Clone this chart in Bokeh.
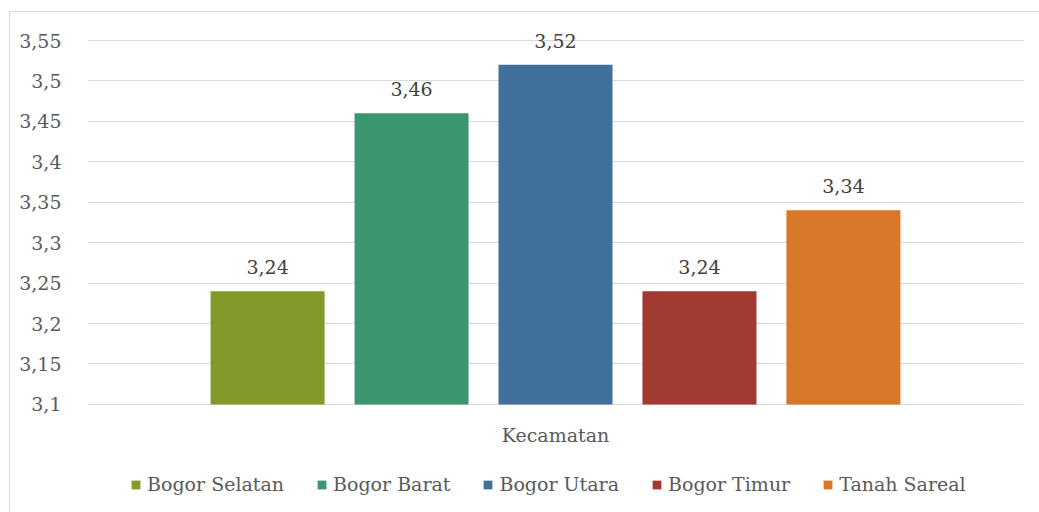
from bokeh.plotting import figure
from bokeh.models import (ColumnDataSource, FactorRange, Range1d, FixedTicker,
                          Legend, LegendItem)
from bokeh.core.properties import value
from bokeh.transform import dodge
from bokeh.embed import file_html
from bokeh.resources import INLINE

# Nilai rata-rata per kecamatan
category = "Kecamatan"
series_names = ["Bogor Selatan", "Bogor Barat", "Bogor Utara", "Bogor Timur", "Tanah Sareal"]
series_values = [3.24, 3.46, 3.52, 3.24, 3.34]
series_colors = ["#839A2B", "#3B9670", "#41709C", "#A03A33", "#D97728"]

tick_values = [3.1, 3.15, 3.2, 3.25, 3.3, 3.35, 3.4, 3.45, 3.5, 3.55]
tick_labels = ["3,1", "3,15", "3,2", "3,25", "3,3", "3,35", "3,4", "3,45", "3,5", "3,55"]

FONT = "DejaVu Serif"
FS = "19px"
TEXT = "#595959"
GRID = "#d9d9d9"

# the plotting frame spans the whole height so that value labels, the
# category label and the legend can sit above/below the gridded band
y_lo = tick_values[0] - 0.1337
y_hi = tick_values[-1] + 0.0347

p = figure(
    width=1030, height=500,
    x_range=FactorRange(category, range_padding=0),
    y_range=Range1d(y_lo, y_hi),
    output_backend="svg", toolbar_location=None,
    min_border_left=77, min_border_right=17, min_border_top=0, min_border_bottom=0,
    outline_line_color=None,
    margin=(11, 0, 0, 9),
    styles={"border-left": f"1px solid {GRID}", "border-top": f"1px solid {GRID}"},
)

step = 0.1538
bar_w = 0.1218
items = []
for i, (name, val, col) in enumerate(zip(series_names, series_values, series_colors)):
    src = ColumnDataSource(dict(x=[category], top=[val],
                                label=[f"{val:.2f}".replace(".", ",")]))
    xpos = dodge("x", (i - 2) * step, range=p.x_range)
    r = p.vbar(x=xpos, top="top", bottom=tick_values[0], width=bar_w,
               source=src, fill_color=col, line_color=None)
    items.append(LegendItem(label=name, renderers=[r]))
    # value label above each bar
    p.text(x=xpos, y="top", text="label", source=src,
           text_align="center", text_baseline="bottom", y_offset=-17,
           text_font=value(FONT), text_font_size=FS, text_color="#404040")

# category label under the baseline
p.text(x=[category], y=[tick_values[0]], text=[category],
       text_align="center", text_baseline="middle", y_offset=31,
       text_font=value(FONT), text_font_size=FS, text_color=TEXT)

# y axis
p.yaxis.ticker = FixedTicker(ticks=tick_values)
p.yaxis.major_label_overrides = {v: s for v, s in zip(tick_values, tick_labels)}
p.yaxis.axis_line_color = None
p.yaxis.major_tick_line_color = None
p.yaxis.minor_tick_line_color = None
p.yaxis.major_label_standoff = 20
p.yaxis.major_label_text_font = FONT
p.yaxis.major_label_text_font_size = FS
p.yaxis.major_label_text_color = TEXT

p.xaxis.visible = False
p.xgrid.grid_line_color = None
p.ygrid.grid_line_color = GRID
p.ygrid.grid_line_width = 1

# legend row along the bottom
legend = Legend(items=items, orientation="horizontal", location=(43, 17),
                label_text_font=FONT, label_text_font_size=FS,
                label_text_color=TEXT, glyph_width=11, glyph_height=11,
                label_standoff=6, spacing=32, border_line_color=None,
                background_fill_alpha=0, margin=0, padding=0)
p.add_layout(legend)

open("out.html", "w").write(file_html(p, INLINE))
